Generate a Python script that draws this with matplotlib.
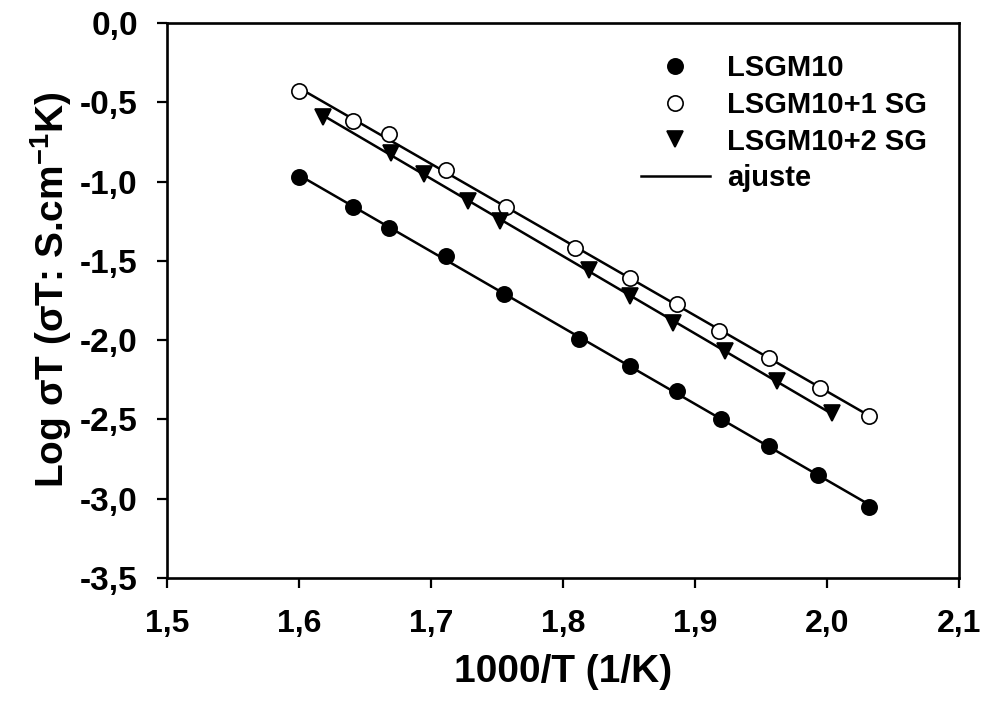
#!/usr/bin/env python

import numpy as np
import matplotlib.pyplot as plt
from matplotlib.lines import Line2D

plt.rcParams['font.family'] = ['Liberation Sans', 'DejaVu Sans']
plt.rcParams['font.weight'] = 'bold'
plt.rcParams['mathtext.fontset'] = 'custom'
plt.rcParams['mathtext.bf'] = 'Liberation Sans:bold'
plt.rcParams['mathtext.rm'] = 'Liberation Sans:bold'

# 1000/T (1/K) and Log(sigma*T) for each composition
x_lsgm10 = [1.600, 1.641, 1.668, 1.711, 1.755, 1.812, 1.851, 1.886, 1.920, 1.956, 1.993, 2.032]
y_lsgm10 = [-0.97, -1.16, -1.29, -1.47, -1.71, -1.99, -2.16, -2.32, -2.50, -2.67, -2.85, -3.05]

x_sg1 = [1.600, 1.641, 1.668, 1.711, 1.757, 1.809, 1.851, 1.886, 1.918, 1.956, 1.995, 2.032]
y_sg1 = [-0.43, -0.62, -0.70, -0.93, -1.16, -1.42, -1.61, -1.77, -1.94, -2.11, -2.30, -2.48]

x_sg2 = [1.618, 1.670, 1.695, 1.728, 1.752, 1.820, 1.851, 1.883, 1.923, 1.962, 2.004]
y_sg2 = [-0.59, -0.82, -0.95, -1.12, -1.25, -1.56, -1.72, -1.89, -2.07, -2.26, -2.46]

labels = ['LSGM10', 'LSGM10+1 SG', 'LSGM10+2 SG']

fig = plt.figure(figsize=(9.86, 7.10), dpi=100)
ax = fig.add_axes([167 / 986, 1 - 578 / 710, (959 - 167) / 986, (578 - 23) / 710])

series = [
    (x_lsgm10, y_lsgm10, dict(marker='o', mfc='black', mec='black')),
    (x_sg1, y_sg1, dict(marker='o', mfc='white', mec='black')),
    (x_sg2, y_sg2, dict(marker='v', mfc='black', mec='black')),
]

handles = []
for (xs, ys, style), lab in zip(series, labels):
    xs = np.array(xs)
    ys = np.array(ys)
    # linear fit drawn over the measured range
    k, b = np.polyfit(xs, ys, 1)
    xf = np.array([xs.min(), xs.max()])
    ax.plot(xf, k * xf + b, color='black', lw=1.8, zorder=2)
    h, = ax.plot(xs, ys, ls='none', ms=11, mew=1.2, zorder=3, label=lab, **style)
    handles.append(h)

handles.append(Line2D([], [], color='black', lw=1.8, label='ajuste'))

ax.set_xlim(1.5, 2.1)
ax.set_ylim(-3.5, 0.0)
ax.set_xticks(np.arange(1.5, 2.11, 0.1))
ax.set_yticks(np.arange(-3.5, 0.01, 0.5))
ax.set_xticklabels([f'{v:.1f}'.replace('.', ',') for v in np.arange(1.5, 2.11, 0.1)])
ax.set_yticklabels([f'{v:.1f}'.replace('.', ',') for v in np.arange(-3.5, 0.01, 0.5)])

for s in ax.spines.values():
    s.set_linewidth(1.9)
ax.tick_params(direction='out', length=7, width=1.6)
ax.tick_params(axis='x', labelsize=23, pad=15)
ax.tick_params(axis='y', labelsize=24, pad=14)

ax.set_xlabel('1000/T (1/K)', fontsize=28, fontweight='bold', labelpad=11)
ax.set_ylabel(r'Log σT (σT: S.cm$^{\mathbf{-1}}$K)', fontsize=28, fontweight='bold')
ax.yaxis.set_label_coords(-0.118, 0.52)

fig.legend(handles=handles, loc='upper left', bbox_to_anchor=(641 / 986, 1 - 54 / 710),
           frameon=False, handlelength=2.35, handletextpad=0.6,
           labelspacing=0.3, borderpad=0, borderaxespad=0,
           prop={'weight': 'bold', 'size': 21})

plt.savefig('out.png', dpi=100)
